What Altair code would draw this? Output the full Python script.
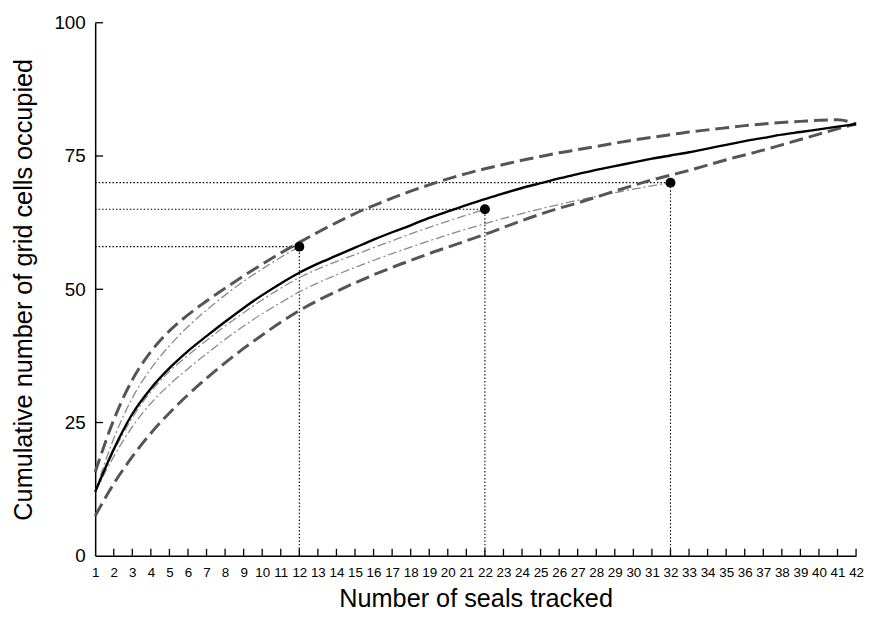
import altair as alt
import pandas as pd

# ---- data ----
seals = list(range(1, 43))

mean_cells = [12, 20.0, 26.6, 31.4, 35.2, 38.4, 41.2, 43.9, 46.5, 48.9, 51.1, 53.1,
              54.8, 56.3, 57.8, 59.3, 60.7, 62, 63.4, 64.6, 65.8, 66.9, 68, 69,
              69.9, 70.8, 71.6, 72.4, 73.1, 73.8, 74.5, 75.1, 75.7, 76.4, 77.1,
              77.8, 78.4, 79, 79.5, 80, 80.5, 81]

upper_ci = [15.7, 25.5, 33.0, 38.3, 42.2, 45.2, 47.8, 50.2, 52.5, 54.7, 56.8,
            58.8, 60.7, 62.5, 64.2, 65.7, 67.1, 68.4, 69.6, 70.7, 71.7, 72.6,
            73.4, 74.2, 74.9, 75.6, 76.2, 76.8, 77.4, 78.0, 78.5, 79.0, 79.5,
            79.9, 80.3, 80.7, 81.0, 81.3, 81.5, 81.7, 81.8, 81.0]

lower_ci = [7.5, 13.5, 18.6, 23.0, 26.8, 30.2, 33.3, 36.2, 38.9, 41.4, 43.8, 46.0,
            47.9, 49.6, 51.2, 52.7, 54.1, 55.4, 56.7, 57.9, 59.1, 60.3, 61.6,
            62.9, 64.1, 65.2, 66.2, 67.3, 68.4, 69.5, 70.5, 71.4, 72.3, 73.3,
            74.3, 75.2, 76.1, 77.1, 78.1, 79.1, 80.1, 81]

sub12_cells = [12, 22.0, 29.6, 35.1, 39.4, 43.0, 46.1, 48.9, 51.5, 53.8, 56.0, 58]

sub22_cells = [12, 19.6, 25.9, 30.8, 34.6, 37.6, 40.4, 43.1, 45.6, 48.0, 50.2,
               52.2, 53.8, 55.2, 56.5, 57.8, 59.1, 60.4, 61.6, 62.8, 63.9, 65]

sub32_cells = [12, 18.6, 24.2, 28.6, 32.1, 35.1, 37.9, 40.6, 43.1, 45.4, 47.5, 49.5,
               51.2, 52.7, 54.1, 55.4, 56.7, 57.9, 59.1, 60.2, 61.3, 62.3, 63.3,
               64.2, 65.1, 65.9, 66.7, 67.4, 68.1, 68.8, 69.4, 70]

subset_sizes = [12, 22, 32]
subset_totals = [58, 65, 70]

y_tick_values = [0, 25, 50, 75, 100]

W, H = 768, 538
FONT = "Liberation Sans"


def series_df(vals):
    return pd.DataFrame({"seals": seals[:len(vals)], "cells": vals})


x_scale = alt.Scale(domain=[1, 42], nice=False, zero=False)
y_scale = alt.Scale(domain=[0, 100], nice=False, zero=True)

x_axis = alt.Axis(
    values=seals, format="d", ticks=False, tickSize=0, grid=False,
    labelFont=FONT, labelFontSize=13.5, labelColor="black",
    labelPadding=10, labelFlush=False, labelOverlap=False, labelBound=False,
    domainColor="black", domainWidth=1.5,
    title="Number of seals tracked", titleFont=FONT, titleFontSize=25.5,
    titleFontWeight="normal", titleColor="black",
    titleY=51, titleBaseline="alphabetic",
)
y_axis = alt.Axis(
    values=y_tick_values, format="d", ticks=False, tickSize=0, grid=False,
    labelFont=FONT, labelFontSize=19, labelColor="black", labelPadding=10,
    labelFlush=False, labelOverlap=False,
    domainColor="black", domainWidth=1.5,
    title="Cumulative number of grid cells occupied", titleFont=FONT,
    titleFontSize=25.5, titleFontWeight="normal", titleColor="black",
    titleX=-64, titleY=H / 2, titleAngle=270, titleBaseline="alphabetic",
    titleAlign="center",
)

X = alt.X("seals:Q", scale=x_scale, axis=x_axis)
Y = alt.Y("cells:Q", scale=y_scale, axis=y_axis)

# inward tick marks
x_ticks = alt.Chart(pd.DataFrame({"seals": seals[1:]})).mark_rule(
    color="black", strokeWidth=1.3
).encode(x=X, y=alt.value(H), y2=alt.value(H - 7))

y_ticks = alt.Chart(pd.DataFrame({"cells": y_tick_values[1:]})).mark_rule(
    color="black", strokeWidth=1.3
).encode(y=Y, x=alt.value(0), x2=alt.value(8))

guides = pd.DataFrame({
    "seals": subset_sizes,
    "cells": subset_totals,
    "start": [1] * len(subset_sizes),
    "base": [0] * len(subset_sizes),
})

h_guides = alt.Chart(guides).mark_rule(
    color="black", strokeWidth=1.1, strokeDash=[1.5, 2]
).encode(x=alt.X("start:Q", scale=x_scale, axis=x_axis), x2="seals:Q", y=Y)

v_guides = alt.Chart(guides).mark_rule(
    color="black", strokeWidth=1.1, strokeDash=[1.5, 2]
).encode(x=X, y=alt.Y("base:Q", scale=y_scale, axis=y_axis), y2="cells:Q")


def line(vals, color, width, dash=None):
    kw = dict(color=color, strokeWidth=width, interpolate="monotone")
    if dash is not None:
        kw["strokeDash"] = dash
    return alt.Chart(series_df(vals)).mark_line(**kw).encode(x=X, y=Y)


dd = [9, 3, 2, 3]
l12 = line(sub12_cells, "#8a8a8a", 1.3, dd)
l22 = line(sub22_cells, "#8a8a8a", 1.3, dd)
l32 = line(sub32_cells, "#8a8a8a", 1.3, dd)
l_up = line(upper_ci, "#555555", 3, [14, 6])
l_lo = line(lower_ci, "#555555", 3, [14, 6])
l_mean = line(mean_cells, "black", 2.4)

dots = alt.Chart(guides).mark_circle(size=100, color="black", opacity=1).encode(x=X, y=Y)

chart = alt.layer(
    x_ticks, y_ticks, h_guides, v_guides, l12, l22, l32, l_up, l_lo, l_mean, dots
).properties(
    width=W, height=H,
    autosize=alt.AutoSizeParams(type="none"),
    padding={"left": 88, "top": 12, "right": 8, "bottom": 70},
).configure_view(stroke=None)

chart.save("out.html", embed_options={"renderer": "svg", "actions": False})
